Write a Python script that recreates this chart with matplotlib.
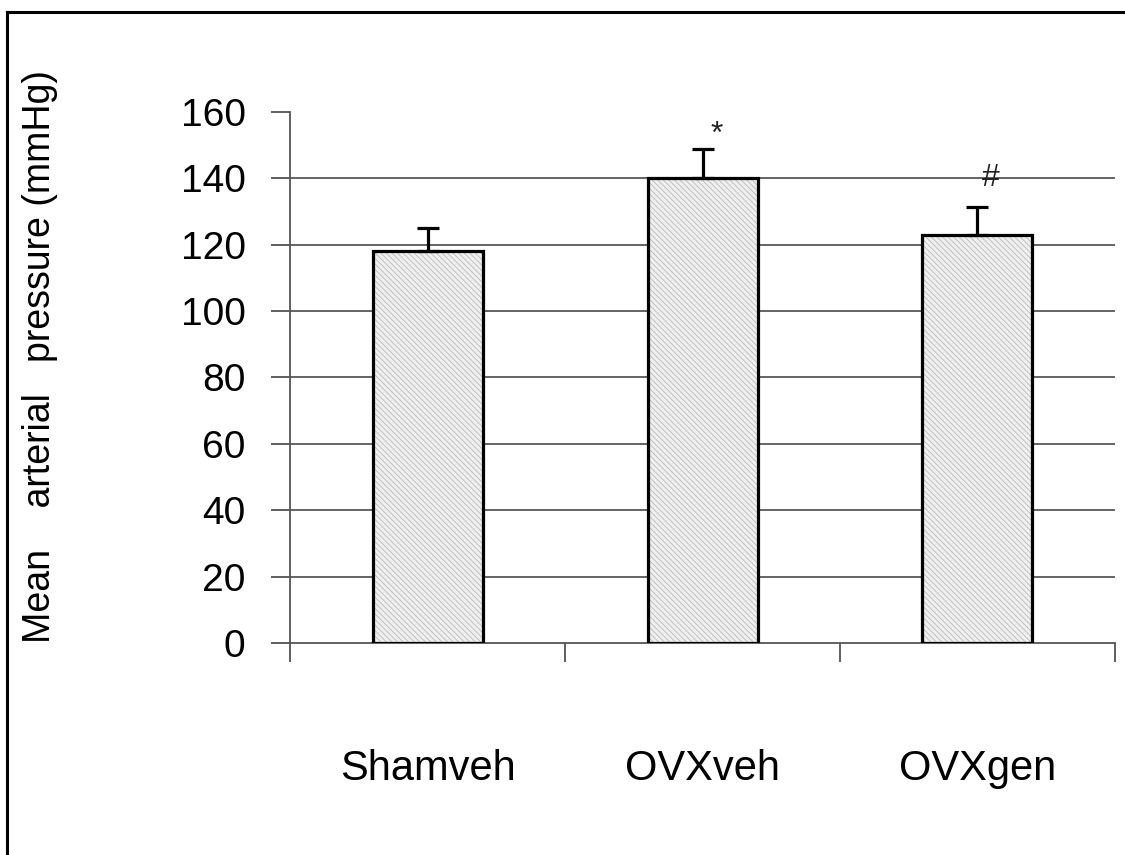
import matplotlib
matplotlib.use("Agg")
import matplotlib.pyplot as plt
from matplotlib.lines import Line2D

groups = ["Shamveh", "OVXveh", "OVXgen"]
mean_pressure = [118, 140, 123]
sem_pressure = [7, 9, 8.5]
markers = ["", "*", "#"]
y_ticks = [0, 20, 40, 60, 80, 100, 120, 140, 160]

plt.rcParams["font.family"] = ["Liberation Sans", "DejaVu Sans"]
plt.rcParams["hatch.linewidth"] = 0.5
plt.rcParams["hatch.color"] = "#a0a0a0"

fig = plt.figure(figsize=(11.25, 8.55), dpi=100)
ax = fig.add_axes([0.2578, 0.248, 0.7333, 0.621])

x = list(range(len(groups)))

# horizontal gridlines behind the bars
for t in y_ticks[1:-1]:
    ax.axhline(t, color="#3a3a3a", lw=1.1, zorder=0)

# hatched fill, then a black outline on top
ax.bar(x, mean_pressure, width=0.4, color="#efefef", hatch="\\\\\\\\\\\\",
       edgecolor="#b0b0b0", linewidth=0, zorder=2)
ax.bar(x, mean_pressure, width=0.4, fill=False, edgecolor="black",
       linewidth=2.3, zorder=3)
ax.errorbar(x, mean_pressure, yerr=[[0] * len(x), sem_pressure], fmt="none",
            ecolor="black", elinewidth=2.3, capsize=8, capthick=2.3, zorder=2.5)

# significance symbols above the error bars
gap = {"*": 4.2, "#": 8.5}
for xi, m, s, mk in zip(x, mean_pressure, sem_pressure, markers):
    if mk:
        ax.text(xi + 0.05, m + s + gap[mk], mk, ha="center", va="center",
                fontsize=23, color="#222222")

ax.set_xlim(-0.5, 2.5)
ax.set_ylim(0, 160)
ax.set_yticks(y_ticks)
ax.set_yticklabels([str(t) for t in y_ticks], fontsize=28)
ax.set_xticks([-0.5, 0.5, 1.5, 2.5])
ax.set_xticklabels([])
ax.tick_params(axis="y", direction="out", length=14, width=1.1, color="#333333", pad=18)
ax.tick_params(axis="x", direction="out", length=14, width=1.1, color="#333333")

for s in ["top", "right"]:
    ax.spines[s].set_visible(False)
for s in ["left", "bottom"]:
    ax.spines[s].set_color("#555555")
    ax.spines[s].set_linewidth(1.3)

# group names sit well below the axis
for xi, g in zip(x, groups):
    ax.text(xi, -38, g, ha="center", va="center", fontsize=30, clip_on=False)

fig.text(0.036, 0.583, "Mean    arterial   pressure (mmHg)", rotation=90,
         ha="center", va="center", fontsize=27)

# frame around the figure (top and left edges visible)
fig.add_artist(Line2D([0.006, 0.006], [0.0, 0.986], color="black", lw=2.2))
fig.add_artist(Line2D([0.006, 1.0], [0.986, 0.986], color="black", lw=2.2))

fig.savefig("out.png", dpi=100, facecolor="white")
